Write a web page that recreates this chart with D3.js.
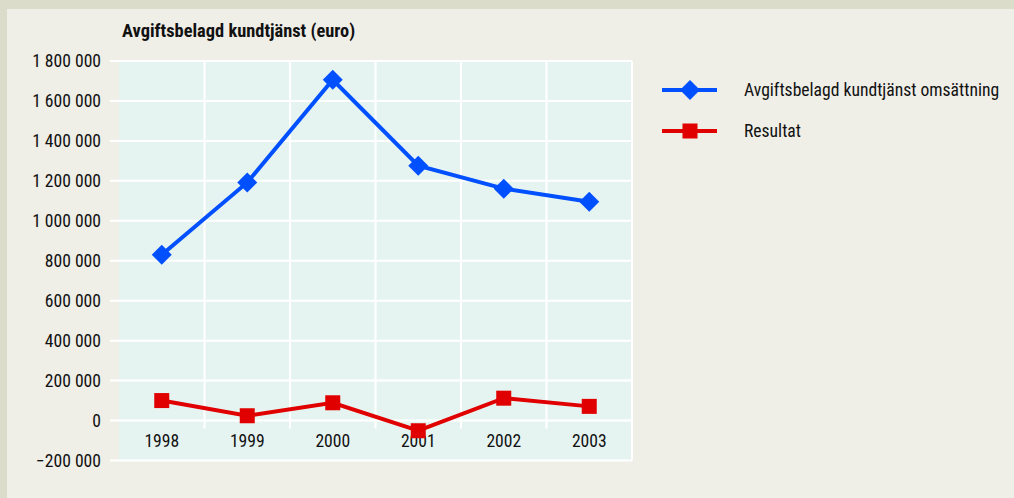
<!DOCTYPE html>
<html><head><meta charset="utf-8">
<script src="https://cdn.jsdelivr.net/npm/d3@7"></script>
<style>
html,body{margin:0;padding:0;background:#dcdccb;}
svg{display:block;}
text{font-family:"Liberation Sans Narrow","Roboto Condensed","Liberation Sans",sans-serif;}
</style></head>
<body>
<script>
const years = ["1998","1999","2000","2001","2002","2003"];
const omsattning = [830000, 1192000, 1706000, 1276000, 1161000, 1095000];
const resultat = [100000, 24000, 89000, -51000, 112000, 71000];
const yTicks = [-200000,0,200000,400000,600000,800000,1000000,1200000,1400000,1600000,1800000];
const seriesNames = ["Avgiftsbelagd kundtjänst omsättning","Resultat"];
const title = "Avgiftsbelagd kundtjänst (euro)";

const W=1014,H=498;
const svg=d3.select("body").append("svg").attr("width",W).attr("height",H);
svg.append("rect").attr("x",7).attr("y",9).attr("width",W-7).attr("height",H-9).attr("fill","#efeee7");

const L=119,R=632,T=61,B=460.5;
const x=d3.scaleBand().domain(years).range([L,R]);
const y=d3.scaleLinear().domain([-200000,1800000]).range([B,T]);
const fmt=v=>(v<0?"\u2212":"")+d3.format(",")(Math.abs(v)).replace(/,/g," ");
const FS=17.6;

svg.append("rect").attr("x",L).attr("y",T).attr("width",R-L).attr("height",B-T).attr("fill","#e6f4f1");

const g=svg.append("g");
yTicks.forEach(v=>{
  g.append("line").attr("x1",L-9).attr("x2",R).attr("y1",y(v)).attr("y2",y(v)).attr("stroke","#fff").attr("stroke-width",2);
  g.append("text").attr("x",101).attr("y",y(v)).attr("dy","0.35em").attr("text-anchor","end")
   .attr("font-size",FS).attr("fill","#111").text(fmt(v));
});
years.slice(1).forEach(c=>{
  g.append("line").attr("x1",x(c)).attr("x2",x(c)).attr("y1",T).attr("y2",y(0)+8).attr("stroke","#fff").attr("stroke-width",2);
});
g.append("line").attr("x1",R).attr("x2",R).attr("y1",T).attr("y2",B).attr("stroke","#fff").attr("stroke-width",2);
years.forEach(c=>{
  g.append("text").attr("x",x(c)+x.bandwidth()/2).attr("y",447).attr("text-anchor","middle")
   .attr("font-size",FS).attr("fill","#111").text(c);
});

svg.append("text").attr("x",122).attr("y",37).attr("font-size",18.4).attr("font-weight","bold").attr("fill","#111").text(title);

const cx=c=>x(c)+x.bandwidth()/2;
const line=d3.line().x((d,i)=>cx(years[i])).y(d=>y(d));
const blue="#0050ff", red="#e00000";
svg.append("path").datum(omsattning).attr("d",line).attr("fill","none").attr("stroke",blue).attr("stroke-width",4);
svg.append("path").datum(resultat).attr("d",line).attr("fill","none").attr("stroke",red).attr("stroke-width",4);
const dia=d3.symbol().type(d3.symbolSquare).size(200);
svg.selectAll(".dia").data(omsattning).enter().append("path").attr("d",dia)
 .attr("transform",(d,i)=>`translate(${cx(years[i])},${y(d)}) rotate(45)`).attr("fill",blue);
svg.selectAll(".sq").data(resultat).enter().append("rect")
 .attr("x",(d,i)=>cx(years[i])-7.5).attr("y",d=>y(d)-7.5).attr("width",15).attr("height",15).attr("fill",red);

const lg=svg.append("g");
[[blue,"d",90],[red,"s",131]].forEach((s,i)=>{
  lg.append("line").attr("x1",662).attr("x2",717).attr("y1",s[2]).attr("y2",s[2]).attr("stroke",s[0]).attr("stroke-width",4);
  if(s[1]==="d") lg.append("path").attr("d",dia).attr("transform",`translate(690,${s[2]}) rotate(45)`).attr("fill",s[0]);
  else lg.append("rect").attr("x",682.5).attr("y",s[2]-7.5).attr("width",15).attr("height",15).attr("fill",s[0]);
  lg.append("text").attr("x",744).attr("y",s[2]).attr("dy","0.35em").attr("font-size",FS).attr("fill","#111").text(seriesNames[i]);
});
</script>
</body></html>
